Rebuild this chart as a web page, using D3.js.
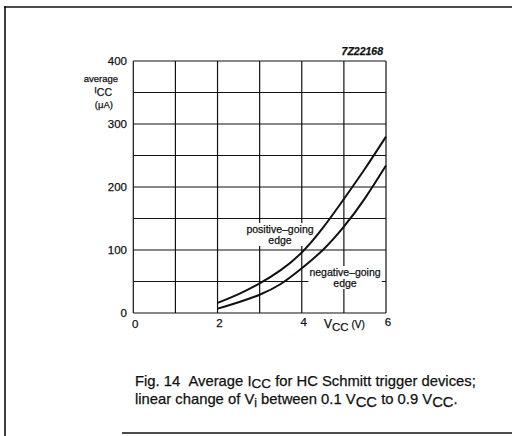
<!DOCTYPE html>
<html>
<head>
<meta charset="utf-8">
<script src="https://cdn.jsdelivr.net/npm/d3@7"></script>
<style>
body { margin: 0; background: #fff; }
svg { display: block; }
text { font-family: "Liberation Sans", Arial, sans-serif; fill: #111; stroke: #111; stroke-width: 0.25; }
</style>
</head>
<body>
<svg id="chart" width="512" height="436"></svg>
<script>
const vcc = [2, 2.5, 3, 3.5, 4, 4.5, 5, 5.5, 6];
const positiveGoing = [16, 30, 47, 68, 96, 135, 181, 229, 280];
const negativeGoing = [7, 17, 29, 46, 71, 100, 137, 182, 234];
const xTicks = [0, 2, 4, 6];
const yTicks = [0, 100, 200, 300, 400];
const xGrid = [0, 1, 2, 3, 4, 5, 6];
const yGrid = [0, 50, 100, 150, 200, 250, 300, 350, 400];

const svg = d3.select("#chart");
const x = d3.scaleLinear().domain([0, 6]).range([133.3, 386]);
const y = d3.scaleLinear().domain([0, 400]).range([313, 61]);

// outer frame
svg.append("line").attr("x1", 4).attr("x2", 512).attr("y1", 7).attr("y2", 7).attr("stroke", "#111").attr("stroke-width", 1.6);
svg.append("line").attr("x1", 5).attr("x2", 5).attr("y1", 6).attr("y2", 436).attr("stroke", "#111").attr("stroke-width", 1.6);
svg.append("line").attr("x1", 122).attr("x2", 512).attr("y1", 433).attr("y2", 433).attr("stroke", "#111").attr("stroke-width", 1.6);

// grid
const g = svg.append("g");
g.selectAll(".vg").data(xGrid).enter().append("line")
  .attr("x1", d => x(d)).attr("x2", d => x(d))
  .attr("y1", y(400)).attr("y2", y(0))
  .attr("stroke", "#111").attr("stroke-width", 1.2);
g.selectAll(".hg").data(yGrid).enter().append("line")
  .attr("x1", x(0)).attr("x2", x(6))
  .attr("y1", d => y(d)).attr("y2", d => y(d))
  .attr("stroke", "#111").attr("stroke-width", 1.2);

// y tick labels
svg.selectAll(".yl").data(yTicks).enter().append("text")
  .attr("x", 127).attr("y", d => y(d) + 4)
  .attr("text-anchor", "end").attr("font-size", 11.5)
  .text(d => d);

// x tick labels
svg.selectAll(".xl").data(xTicks).enter().append("text")
  .attr("x", d => x(d) + 2).attr("y", d => 328 - d * 0.4)
  .attr("text-anchor", "middle").attr("font-size", 11.5)
  .text(d => d);

// x axis label
const xl = svg.append("text").attr("x", 324).attr("y", 328).attr("font-size", 12);
xl.append("tspan").text("V");
xl.append("tspan").attr("dy", 3).attr("font-size", 11.5).text("CC");
xl.append("tspan").attr("dy", -3).attr("font-size", 10).text("\u00A0(V)");

// y axis label
svg.append("text").attr("x", 118).attr("y", 82).attr("text-anchor", "end").attr("font-size", 9.5).text("average");
const yl = svg.append("text").attr("x", 112).attr("y", 96).attr("text-anchor", "end").attr("font-size", 10.5);
yl.append("tspan").attr("font-size", 9).attr("dy", -3).text("I");
yl.append("tspan").attr("dy", 3).text("CC");
svg.append("text").attr("x", 113).attr("y", 108).attr("text-anchor", "end").attr("font-size", 9.5).text("(\u03BCA)");

// figure code
svg.append("text").attr("x", 383).attr("y", 55).attr("text-anchor", "end")
  .attr("font-size", 10.5).attr("font-style", "italic").attr("font-weight", "bold").text("7Z22168");

// curve labels with white knock-out
function label(cx, cy, lines) {
  const grp = svg.append("g");
  const rect = grp.append("rect").attr("fill", "#fff");
  lines.forEach((t, i) => grp.append("text").attr("x", cx).attr("y", cy + i * 11)
    .attr("text-anchor", "middle").attr("font-size", 10.5).text(t));
  const bb = grp.node().getBBox();
  rect.attr("x", bb.x - 1).attr("y", bb.y).attr("width", bb.width + 2).attr("height", bb.height);
}
label(280, 233, ["positive\u2013going", "edge"]);
label(345, 276, ["negative\u2013going", "edge"]);

// curves
const line = d3.line().x(d => x(d[0])).y(d => y(d[1])).curve(d3.curveNatural);
svg.append("path").datum(vcc.map((v, i) => [v, positiveGoing[i]]))
  .attr("d", line).attr("fill", "none").attr("stroke", "#111").attr("stroke-width", 2);
svg.append("path").datum(vcc.map((v, i) => [v, negativeGoing[i]]))
  .attr("d", line).attr("fill", "none").attr("stroke", "#111").attr("stroke-width", 2);

// caption
const c1 = svg.append("text").attr("x", 135).attr("y", 386).attr("font-size", 14.8);
c1.append("tspan").text("Fig. 14\u00A0\u00A0Average I");
c1.append("tspan").attr("dy", 2).attr("font-size", 13.5).text("CC");
c1.append("tspan").attr("dy", -2).text(" for HC Schmitt trigger devices;");
const c2 = svg.append("text").attr("x", 135).attr("y", 404).attr("font-size", 14.8);
c2.append("tspan").text("linear change of V");
c2.append("tspan").attr("dy", 3).attr("font-size", 12).text("i");
c2.append("tspan").attr("dy", -3).text(" between 0.1 V");
c2.append("tspan").attr("dy", 3).text("CC");
c2.append("tspan").attr("dy", -3).text(" to 0.9 V");
c2.append("tspan").attr("dy", 3).text("CC");
c2.append("tspan").attr("dy", -3).text(".");
</script>
</body>
</html>
